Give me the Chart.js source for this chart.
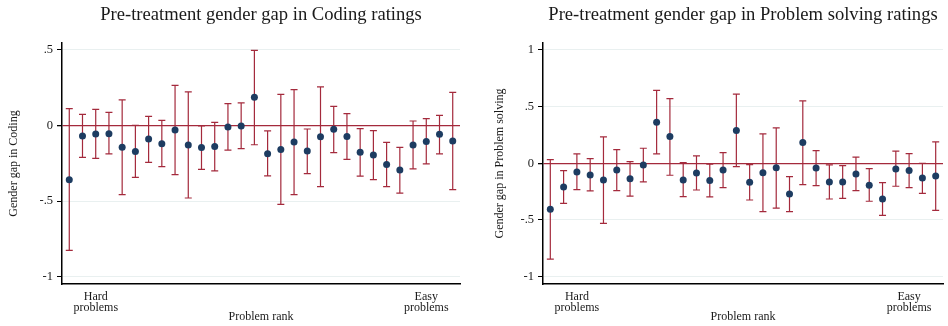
<!DOCTYPE html>
<html>
<head>
<meta charset="utf-8">
<script src="https://cdn.jsdelivr.net/npm/chart.js@4.4.1/dist/chart.umd.min.js"></script>
<style>
  body { margin: 0; background: #fff; }
  #wrap { position: relative; width: 948px; height: 326px; }
  canvas { position: absolute; top: 0; }
</style>
</head>
<body>
<div id="wrap">
  <canvas id="coding" width="474" height="326" style="left:0"></canvas>
  <canvas id="problem" width="474" height="326" style="left:474px"></canvas>
</div>
<script>
// problem rank, 1 = hardest
const ranks = [1, 2, 3, 4, 5, 6, 7, 8, 9, 10, 11, 12, 13, 14, 15, 16, 17, 18, 19, 20, 21, 22, 23, 24, 25, 26, 27, 28, 29, 30];
const rankTicks = [3, 28];
const rankLabels = [["Hard", "problems"], ["Easy", "problems"]];

// coding ratings: estimate and confidence interval
const codingEst = [-0.359, -0.070, -0.057, -0.055, -0.145, -0.172, -0.090, -0.121, -0.031, -0.130, -0.147, -0.139, -0.011, -0.004, 0.185, -0.187, -0.159, -0.110, -0.169, -0.075, -0.026, -0.073, -0.178, -0.196, -0.258, -0.295, -0.130, -0.106, -0.059, -0.103];
const codingLo = [-0.826, -0.211, -0.218, -0.189, -0.458, -0.344, -0.245, -0.273, -0.326, -0.480, -0.291, -0.301, -0.163, -0.154, -0.128, -0.334, -0.522, -0.458, -0.319, -0.405, -0.180, -0.225, -0.335, -0.359, -0.405, -0.447, -0.288, -0.255, -0.189, -0.425];
const codingHi = [0.110, 0.073, 0.106, 0.086, 0.168, 0.000, 0.060, 0.033, 0.264, 0.221, -0.004, 0.020, 0.143, 0.148, 0.496, -0.037, 0.205, 0.236, -0.024, 0.254, 0.126, 0.077, -0.022, -0.035, -0.112, -0.145, 0.029, 0.044, 0.066, 0.218];
const codingTicks = [-1, -0.5, 0, 0.5];

// problem solving ratings
const psEst = [-0.406, -0.209, -0.077, -0.103, -0.147, -0.059, -0.136, -0.015, 0.362, 0.235, -0.147, -0.086, -0.153, -0.059, 0.288, -0.168, -0.083, -0.039, -0.271, 0.182, -0.041, -0.165, -0.165, -0.094, -0.194, -0.315, -0.050, -0.065, -0.130, -0.112];
const psLo = [-0.845, -0.353, -0.233, -0.244, -0.530, -0.242, -0.289, -0.165, 0.082, -0.106, -0.294, -0.236, -0.297, -0.215, -0.030, -0.324, -0.427, -0.395, -0.427, -0.189, -0.197, -0.315, -0.309, -0.242, -0.335, -0.459, -0.203, -0.215, -0.265, -0.415];
const psHi = [0.032, -0.065, 0.082, 0.041, 0.232, 0.120, 0.014, 0.132, 0.641, 0.570, 0.005, 0.064, -0.009, 0.094, 0.609, -0.012, 0.259, 0.312, -0.118, 0.550, 0.111, -0.015, -0.021, 0.053, -0.048, -0.171, 0.106, 0.085, 0.000, 0.188];
const psTicks = [-1, -0.5, 0, 0.5, 1];

const serif = "'Liberation Serif', 'DejaVu Serif', serif";
const barColor = "#a42a3c";
const dotColor = "#1d3c61";

// draws the CI whiskers under the points
const errorBars = {
  id: "errorBars",
  beforeDatasetsDraw(chart, args, opts) {
    const ctx = chart.ctx;
    const x = chart.scales.x;
    const y = chart.scales.y;
    ctx.save();
    ctx.strokeStyle = barColor;
    ctx.lineWidth = 1.2;
    opts.lo.forEach((lo, i) => {
      const px = x.getPixelForValue(ranks[i]);
      const pLo = y.getPixelForValue(lo);
      const pHi = y.getPixelForValue(opts.hi[i]);
      ctx.beginPath();
      ctx.moveTo(px, pLo);
      ctx.lineTo(px, pHi);
      ctx.moveTo(px - 3.5, pLo);
      ctx.lineTo(px + 3.5, pLo);
      ctx.moveTo(px - 3.5, pHi);
      ctx.lineTo(px + 3.5, pHi);
      ctx.stroke();
    });
    ctx.restore();
  },
};

function fmtTick(v) {
  if (v === 0) return "0";
  return String(v).replace("0.", ".");
}

function makePanel(id, title, yTitle, est, lo, hi, yTicks, yMin, yMax, yWidth, yTitlePad, padRight) {
  const ctx = document.getElementById(id).getContext("2d");
  return new Chart(ctx, {
    type: "scatter",
    data: {
      datasets: [
        {
          data: ranks.map((r, i) => ({ x: r, y: est[i] })),
          pointRadius: 3.5,
          pointBackgroundColor: dotColor,
          pointBorderWidth: 0,
        },
      ],
    },
    plugins: [errorBars],
    options: {
      responsive: false,
      animation: false,
      devicePixelRatio: 1,
      layout: { padding: { left: 0, right: padRight, top: 0, bottom: 0 } },
      plugins: {
        legend: { display: false },
        tooltip: { enabled: false },
        errorBars: { lo: lo, hi: hi },
        title: {
          display: true,
          text: title,
          fullSize: false,
          color: "#1a1a1a",
          font: { family: serif, size: 18.6, weight: "normal" },
          padding: { top: 3.6, bottom: 17.1 },
        },
      },
      scales: {
        x: {
          type: "linear",
          min: 0.45,
          max: 30.55,
          afterBuildTicks: (s) => {
            s.ticks = rankTicks.map((v) => ({ value: v }));
          },
          afterFit: (s) => {
            s.height = 42;
          },
          ticks: {
            autoSkip: false,
            maxRotation: 0,
            padding: -1,
            color: "#1a1a1a",
            font: { family: serif, size: 12, lineHeight: 0.95 },
            callback: (v) => rankLabels[rankTicks.indexOf(v)],
          },
          grid: { display: false },
          border: { display: true, color: "#000", width: 1.5 },
          title: {
            display: true,
            text: "Problem rank",
            color: "#1a1a1a",
            font: { family: serif, size: 12 },
            padding: { top: 0, bottom: 1.5 },
          },
        },
        y: {
          min: yMin,
          max: yMax,
          afterBuildTicks: (s) => {
            s.ticks = yTicks.map((v) => ({ value: v }));
          },
          afterFit: (s) => {
            s.width = yWidth;
          },
          ticks: {
            padding: 4,
            color: "#1a1a1a",
            font: { family: serif, size: 12.5 },
            callback: (v) => fmtTick(v),
          },
          grid: {
            color: (c) => (c.tick && c.tick.value === 0 ? barColor : "#e9f0f0"),
            lineWidth: (c) => (c.tick && c.tick.value === 0 ? 1.3 : 1),
            tickColor: "#000",
            tickLength: 5,
          },
          border: { display: true, color: "#000", width: 1.5 },
          title: {
            display: true,
            text: yTitle,
            color: "#1a1a1a",
            font: { family: serif, size: 12 },
            padding: { top: yTitlePad, bottom: 0 },
          },
        },
      },
    },
  });
}

makePanel("coding", "Pre-treatment gender gap in Coding ratings", "Gender gap in Coding",
  codingEst, codingLo, codingHi, codingTicks, -1.048, 0.544, 62, 7, 14);
makePanel("problem", "Pre-treatment gender gap in Problem solving ratings", "Gender gap in Problem solving",
  psEst, psLo, psHi, psTicks, -1.064, 1.059, 69, 19, 5);
</script>
</body>
</html>
